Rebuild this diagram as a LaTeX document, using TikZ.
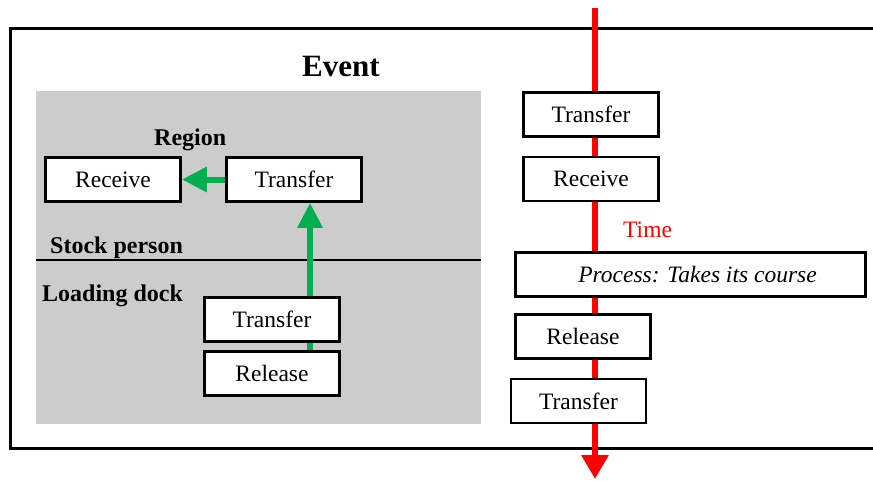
\documentclass[tikz,border=0pt]{standalone}
\usepackage{fontspec}
\setmainfont{Liberation Serif}
\usetikzlibrary{arrows.meta,calc}
\pgfdeclarelayer{bg}
\pgfdeclarelayer{mid}
\pgfsetlayers{bg,mid,main}
\definecolor{grn}{HTML}{00B050}
\definecolor{grayfill}{HTML}{CCCCCC}
\tikzset{
  bx/.style={draw=black, line width=2.7pt, fill=white, minimum width=135pt, minimum height=44pt, inner sep=0pt, font=\fontsize{23.5}{28}\selectfont},
  lbl/.style={font=\fontsize{24}{28}\selectfont\bfseries, inner sep=0pt, anchor=base west},
  garrow/.style={draw=grn, line width=6pt, -{Triangle[width=24pt,length=25pt]}},
  rarrow/.style={draw=red, line width=6pt, -{Triangle[width=26pt,length=24pt]}}
}
\begin{document}
\begin{tikzpicture}[x=1pt,y=-1pt]
\useasboundingbox (0,0) rectangle (873,480);
% boxes
\node[bx] (recL) at (113,179.5) {Receive};
\node[bx] (trL) at (294,179.5) {Transfer};
\node[bx] (trD) at (272,319.5) {Transfer};
\node[bx] (relD) at (272,373.5) {Release};
\node[bx] (trR1) at (591,114.5) {Transfer};
\node[bx] (recR) at (591,179) {Receive};
\node[bx, minimum width=350pt] (proc) at (690.5,274.5) {\hspace*{14pt}\itshape Process: Takes its course};
\node[bx] (relR) at (583,336.5) {Release};
\node[bx] (trR2) at (578.5,401) {Transfer};
% labels
\node[lbl, font=\fontsize{31}{34}\selectfont\bfseries] (event) at (302,76) {Event};
\node[lbl] (region) at (154,145) {Region};
\node[lbl] (stock) at (50,253) {Stock person};
\node[lbl] (dock) at (42,301) {Loading dock};
\node[lbl, font=\fontsize{23.5}{28}\selectfont, text=red] (time) at (623,237) {Time};
% background
\begin{pgfonlayer}{bg}
  \draw[line width=3pt] (874,28) -- (10,28) -- (10,448) -- (874,448);
  \fill[grayfill] (36,91) rectangle (481,424);
  \draw[line width=2.5pt] (36,260) -- (481,260);
\end{pgfonlayer}
\begin{pgfonlayer}{mid}
  \coordinate (ttop) at (595,8);
  \coordinate (tbot) at (595,479);
  \draw[rarrow] (ttop) -- (tbot);
  \draw[garrow] (trL.west) -- (recL.east);
  \coordinate (gx) at ($(trL.south)+(16,0)$);
  \draw[garrow] (relD.north -| gx) -- (gx);
\end{pgfonlayer}
\end{tikzpicture}
\end{document}
